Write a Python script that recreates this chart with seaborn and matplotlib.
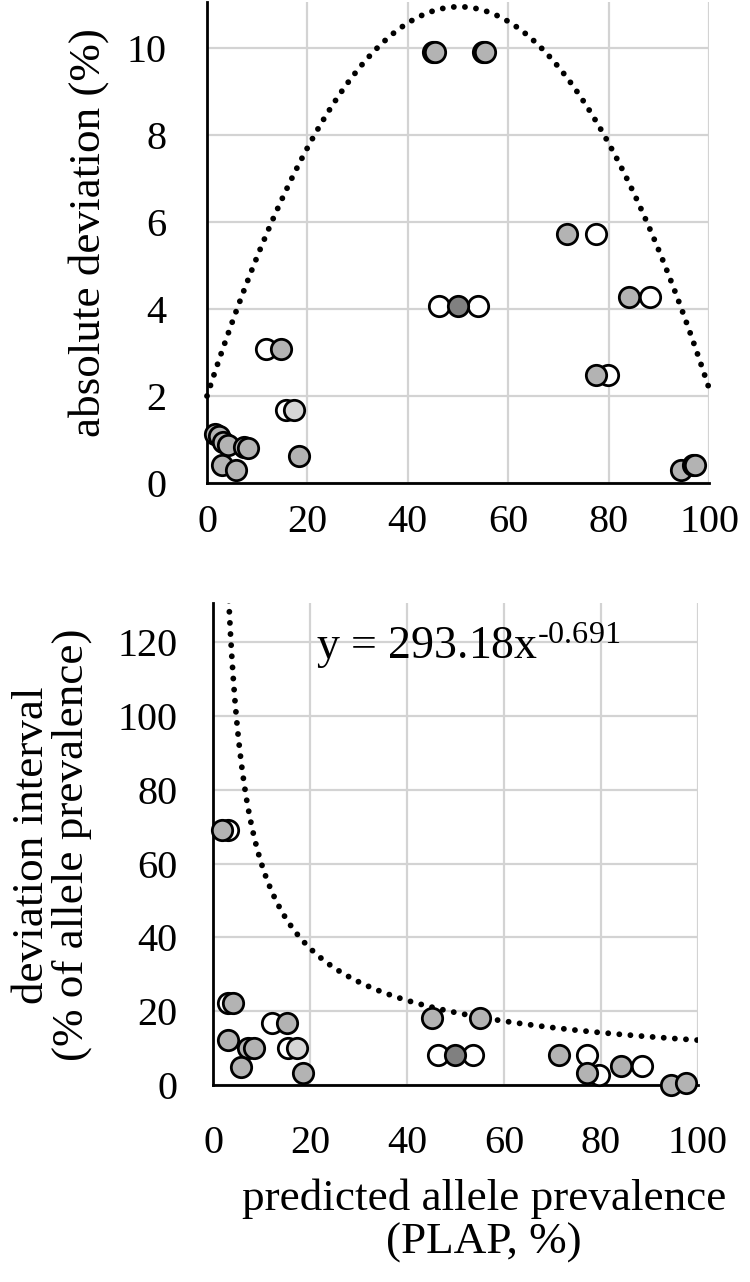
import numpy as np
import matplotlib
matplotlib.use("Agg")
import matplotlib.pyplot as plt
import seaborn as sns

# ---------------- data: top panel (absolute deviation, %) ----------------
top_white_x = [11.7, 15.8, 46.2, 54.0, 77.4, 88.2, 79.9]
top_white_y = [3.08, 1.69, 4.08, 4.08, 5.72, 4.28, 2.48]
top_gray_x = [1.5, 2.4, 3.2, 4.1, 7.3, 8.2, 2.9, 5.7, 14.8, 18.4,
              45.0, 45.4, 55.0, 55.3, 71.8, 84.0, 77.4, 94.4, 96.8, 97.3]
top_gray_y = [1.12, 1.08, 0.95, 0.88, 0.82, 0.80, 0.41, 0.30, 3.08, 0.61,
              9.90, 9.90, 9.90, 9.90, 5.72, 4.28, 2.48, 0.30, 0.41, 0.42]
top_light_x = [17.4]
top_light_y = [1.69]
top_dark_x = [50.0]
top_dark_y = [4.08]
# polynomial trend line coefficients (c0 + c1*x + c2*x^2)
top_trend = [2.0, 0.3562, -0.003544]

# ---------------- data: bottom panel (deviation interval) ----------------
bot_white_x = [3.1, 3.1, 12.1, 15.5, 46.4, 53.7, 77.1, 79.7, 88.4]
bot_white_y = [69.1, 22.1, 16.9, 9.9, 8.1, 8.1, 8.2, 2.7, 5.1]
bot_gray_x = [1.7, 4.1, 15.2, 3.1, 7.2, 8.3, 5.7, 18.5, 45.1, 55.1,
              71.4, 77.1, 84.2, 94.4, 97.5]
bot_gray_y = [69.1, 22.1, 16.9, 12.2, 9.9, 9.9, 5.0, 3.3, 18.1, 18.1,
              8.1, 3.2, 5.1, 0.0, 0.5]
bot_light_x = [17.2]
bot_light_y = [9.9]
bot_dark_x = [49.9]
bot_dark_y = [8.1]
# power trend line y = a * x^b
bot_trend = [293.18, -0.691]

x_ticks = [0, 20, 40, 60, 80, 100]
top_yticks = [0, 2, 4, 6, 8, 10]
bot_yticks = [0, 20, 40, 60, 80, 100, 120]

sns.set_theme(style="white")
plt.rcParams['font.family'] = ['Liberation Serif', 'DejaVu Serif']
plt.rcParams['mathtext.fontset'] = 'custom'
plt.rcParams['mathtext.rm'] = 'Liberation Serif'
plt.rcParams['mathtext.it'] = 'Liberation Serif'
plt.rcParams['axes.unicode_minus'] = False

W, H = 750, 1282
fig = plt.figure(figsize=(W / 100, H / 100), dpi=100)
ax1 = fig.add_axes([207 / W, 1 - 483 / H, (709 - 207) / W, 481 / H])
ax2 = fig.add_axes([213.3 / W, 1 - 1085 / H, (697.7 - 213.3) / W, (1085 - 603) / H])

TICK_FS = 29
LABEL_FS = 32.5
GRID_C = '#d3d3d3'
GRAY = '#b3b3b3'
LIGHT = '#d6d6d6'
DARK = '#808080'
S = 215
EW = 2.0


def style(ax, ylim, yticks, xpad, ypad):
    ax.set_xlim(0, 100)
    ax.set_ylim(*ylim)
    ax.set_xticks(x_ticks)
    ax.set_yticks(yticks)
    ax.grid(True, color=GRID_C, lw=1.6)
    ax.set_axisbelow(True)
    for s in ['top', 'right']:
        ax.spines[s].set_visible(False)
    for s in ['left', 'bottom']:
        ax.spines[s].set_color('black')
        ax.spines[s].set_linewidth(2.0)
        ax.spines[s].set_zorder(2)
    ax.tick_params(axis='x', length=0, pad=xpad, labelsize=TICK_FS, colors='black')
    ax.tick_params(axis='y', length=0, pad=ypad, labelsize=TICK_FS, colors='black')
    ax.set_xlabel('')
    ax.set_ylabel('')


def points(ax, xs, ys, fill):
    sns.scatterplot(x=xs, y=ys, ax=ax, color=fill, edgecolor='black',
                    linewidth=EW, s=S, zorder=4, clip_on=False, legend=False)


DOT = dict(color='black', lw=4.2, linestyle=(0, (0.01, 1.9)),
           dash_capstyle='round', zorder=3)

# ---- top panel ----
xx = np.linspace(0, 100, 400)
yy = top_trend[0] + top_trend[1] * xx + top_trend[2] * xx ** 2
ax1.plot(xx, yy, clip_on=False, **DOT)
points(ax1, top_white_x, top_white_y, 'white')
points(ax1, top_gray_x, top_gray_y, GRAY)
points(ax1, top_light_x, top_light_y, LIGHT)
points(ax1, top_dark_x, top_dark_y, DARK)
style(ax1, (0, 11.06), top_yticks, 15, 29)

# ---- bottom panel ----
xb = np.linspace(3.2, 100, 600)
yb = bot_trend[0] * xb ** bot_trend[1]
ax2.plot(xb, yb, **DOT)
points(ax2, bot_white_x, bot_white_y, 'white')
points(ax2, bot_gray_x, bot_gray_y, GRAY)
points(ax2, bot_light_x, bot_light_y, LIGHT)
points(ax2, bot_dark_x, bot_dark_y, DARK)
style(ax2, (0, 130.6), bot_yticks, 29, 26)
ax2.text(21.2, 115.5, r"y = 293.18x$^{\text{-0.691}}$", fontsize=33,
         color='black', ha='left', va='baseline', zorder=5)

# ---- axis labels ----
fig.text(89 / W, 1 - 233 / H, 'absolute deviation (%)', rotation=90,
         ha='center', va='center', fontsize=LABEL_FS, color='black')
fig.text(52 / W, 1 - 845 / H, 'deviation interval\n(% of allele prevalence)',
         rotation=90, ha='center', va='center', fontsize=LABEL_FS,
         color='black', linespacing=1.0)
fig.text(484 / W, 1 - 1221 / H, 'predicted allele prevalence\n(PLAP, %)',
         ha='center', va='center', fontsize=LABEL_FS, color='black',
         linespacing=1.1)

fig.savefig('out.png', dpi=100)
